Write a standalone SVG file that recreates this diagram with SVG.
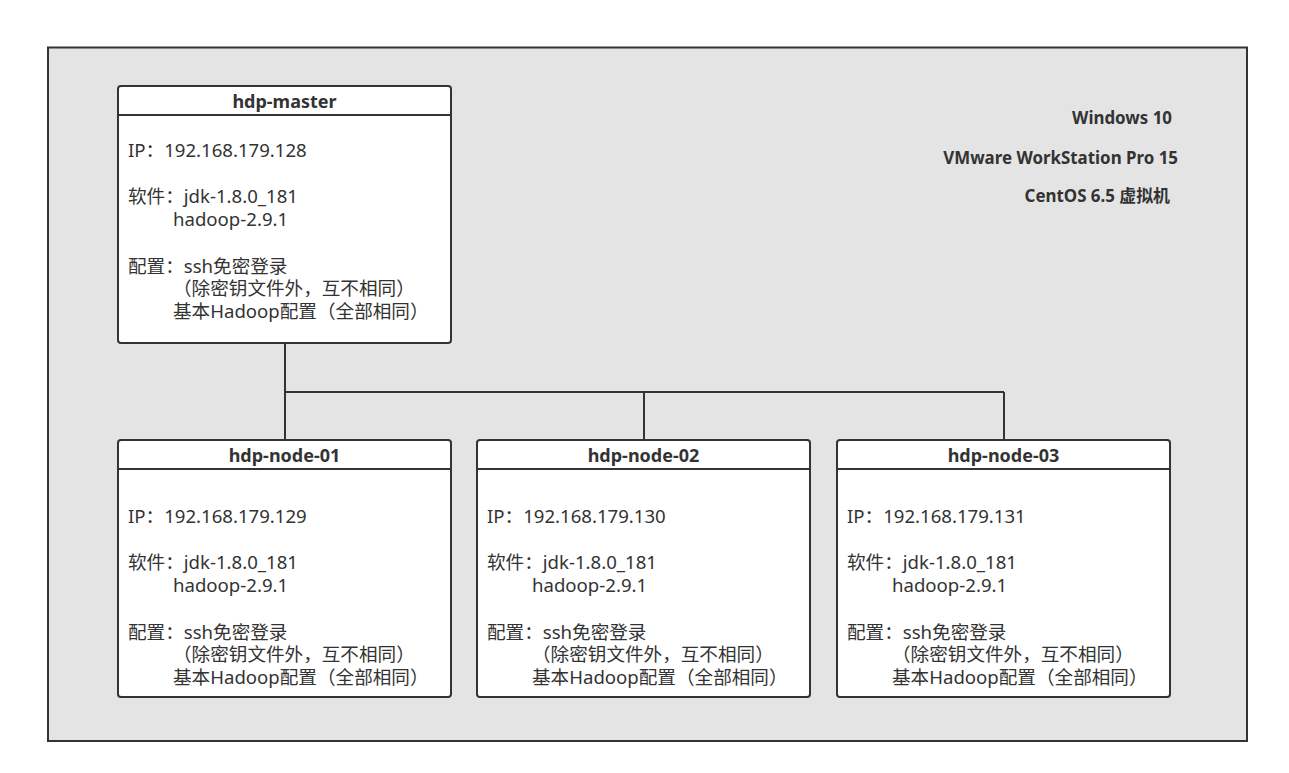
<svg xmlns="http://www.w3.org/2000/svg" width="1289" height="773" viewBox="0 0 1289 773">
<style>
.bg{fill:#e4e4e4;stroke:#333;stroke-width:2}
.box{fill:#fff;stroke:#333;stroke-width:2}
.hl{stroke:#333;stroke-width:2}
.t{font-family:"Noto Sans","Noto Sans CJK SC",sans-serif;font-size:18.6px;fill:#333}
.ti{font-family:"Noto Sans","Noto Sans CJK SC",sans-serif;font-size:18px;font-weight:bold;fill:#333;text-anchor:middle}
.env{font-family:"Noto Sans","Noto Sans CJK SC",sans-serif;font-size:16.9px;font-weight:bold;fill:#333;text-anchor:end}
.con{fill:none;stroke:#333;stroke-width:2}
</style>
<rect class="bg" x="48" y="47.5" width="1199" height="693.5"/>
<g id="env">
<text class="env" x="1172" y="124">Windows 10</text>
<text class="env" x="1178" y="164">VMware WorkStation Pro 15</text>
<text class="env" x="1170" y="202">CentOS 6.5 虚拟机</text>
</g>
<g id="connectors">
<path class="con" d="M285 343V392M285 392H1004M285 392V440M644 392V440M1004 392V440"/>
</g>
<g id="hdp-master">
<rect class="box" x="118" y="86" width="333" height="257" rx="3"/>
<line class="hl" x1="118" y1="115" x2="451" y2="115"/>
<text class="ti" x="284.5" y="108">hdp-master</text>
<text class="t" x="128" y="157">IP：192.168.179.128</text>
<text class="t" x="128" y="203">软件：jdk-1.8.0_181</text>
<text class="t" x="173" y="226">hadoop-2.9.1</text>
<text class="t" x="128" y="273">配置：ssh免密登录</text>
<text class="t" x="173" y="295">（除密钥文件外，互不相同）</text>
<text class="t" x="173" y="318">基本Hadoop配置（全部相同）</text>
</g>
<g id="hdp-node-01">
<rect class="box" x="118" y="440" width="333" height="257" rx="3"/>
<line class="hl" x1="118" y1="469" x2="451" y2="469"/>
<text class="ti" x="284.5" y="462">hdp-node-01</text>
<text class="t" x="128" y="523">IP：192.168.179.129</text>
<text class="t" x="128" y="569">软件：jdk-1.8.0_181</text>
<text class="t" x="173" y="592">hadoop-2.9.1</text>
<text class="t" x="128" y="639">配置：ssh免密登录</text>
<text class="t" x="173" y="661">（除密钥文件外，互不相同）</text>
<text class="t" x="173" y="684">基本Hadoop配置（全部相同）</text>
</g>
<g id="hdp-node-02">
<rect class="box" x="477" y="440" width="333" height="257" rx="3"/>
<line class="hl" x1="477" y1="469" x2="810" y2="469"/>
<text class="ti" x="643.5" y="462">hdp-node-02</text>
<text class="t" x="487" y="523">IP：192.168.179.130</text>
<text class="t" x="487" y="569">软件：jdk-1.8.0_181</text>
<text class="t" x="532" y="592">hadoop-2.9.1</text>
<text class="t" x="487" y="639">配置：ssh免密登录</text>
<text class="t" x="532" y="661">（除密钥文件外，互不相同）</text>
<text class="t" x="532" y="684">基本Hadoop配置（全部相同）</text>
</g>
<g id="hdp-node-03">
<rect class="box" x="837" y="440" width="333" height="257" rx="3"/>
<line class="hl" x1="837" y1="469" x2="1170" y2="469"/>
<text class="ti" x="1003.5" y="462">hdp-node-03</text>
<text class="t" x="847" y="523">IP：192.168.179.131</text>
<text class="t" x="847" y="569">软件：jdk-1.8.0_181</text>
<text class="t" x="892" y="592">hadoop-2.9.1</text>
<text class="t" x="847" y="639">配置：ssh免密登录</text>
<text class="t" x="892" y="661">（除密钥文件外，互不相同）</text>
<text class="t" x="892" y="684">基本Hadoop配置（全部相同）</text>
</g>
</svg>
